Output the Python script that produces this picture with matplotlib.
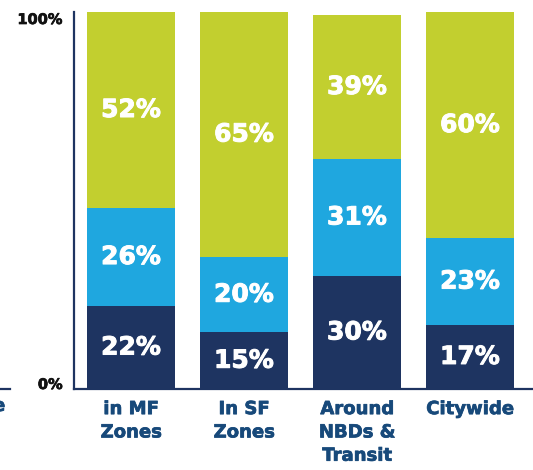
import matplotlib
matplotlib.use("Agg")
import matplotlib.pyplot as plt
import matplotlib.patheffects as pe
from matplotlib.lines import Line2D

NAVY = "#1e3461"
CYAN = "#1fa7df"
LIME = "#c2cf2f"
LABEL_BLUE = "#17497a"

categories = ["in MF\nZones", "In SF\nZones", "Around\nNBDs &\nTransit", "Citywide"]
bottom_share = [22, 15, 30, 17]
middle_share = [26, 20, 31, 23]
top_share = [52, 65, 38.2, 60]
bottom_labels = ["22%", "15%", "30%", "17%"]
middle_labels = ["26%", "20%", "31%", "23%"]
top_labels = ["52%", "65%", "39%", "60%"]

plt.rcParams["font.family"] = ["DejaVu Sans"]


def heavy(color, lw=0.7):
    # thicken the bold glyphs a little
    return [pe.withStroke(linewidth=lw, foreground=color)]


fig = plt.figure(figsize=(5.33, 4.70), dpi=100)
ax = fig.add_axes([74 / 533, 81 / 470, 459 / 533, 377 / 470])

xs = list(range(len(categories)))
width = 0.78
base = [0] * len(xs)
for values, labels, color in ((bottom_share, bottom_labels, NAVY),
                              (middle_share, middle_labels, CYAN),
                              (top_share, top_labels, LIME)):
    ax.bar(xs, values, width, bottom=base, color=color, linewidth=0)
    for x, b, v, lab in zip(xs, base, values, labels):
        ax.text(x, b + v / 2, lab, ha="center", va="center", color="white",
                fontsize=18, fontweight="bold", path_effects=heavy("white"))
    base = [b + v for b, v in zip(base, values)]

ax.set_xlim(-0.504, 3.558)
ax.set_ylim(0, 100)

for side in ("top", "right"):
    ax.spines[side].set_visible(False)
ax.spines["left"].set_color(NAVY)
ax.spines["left"].set_linewidth(1.6)
ax.spines["bottom"].set_color(NAVY)
ax.spines["bottom"].set_linewidth(1.6)

ax.set_yticks([0, 100])
ax.set_yticklabels(["0%", "100%"], fontsize=10.5, fontweight="bold", color="#111111")
ax.tick_params(axis="y", length=0, pad=8)
ylabels = ax.get_yticklabels()
ylabels[0].set_verticalalignment("baseline")
ylabels[1].set_verticalalignment("top")
for lab in ylabels:
    lab.set_path_effects(heavy("#111111", 0.5))

ax.set_xticks(xs)
ax.set_xticklabels(categories, fontsize=13, fontweight="bold", color=LABEL_BLUE,
                   linespacing=1.38)
ax.tick_params(axis="x", length=0, pad=8)
for lab in ax.get_xticklabels():
    lab.set_path_effects(heavy(LABEL_BLUE, 0.5))

# fragment of the neighbouring chart cut off at the left edge
fig.add_artist(Line2D([0, 10 / 533], [81 / 470, 81 / 470], color=NAVY, linewidth=1.6))
fig.text(-7 / 533, 1 - 406 / 470, "e", ha="left", va="center", fontsize=13,
         fontweight="bold", color=LABEL_BLUE, path_effects=heavy(LABEL_BLUE, 0.5))

fig.savefig("out.png", dpi=100)
